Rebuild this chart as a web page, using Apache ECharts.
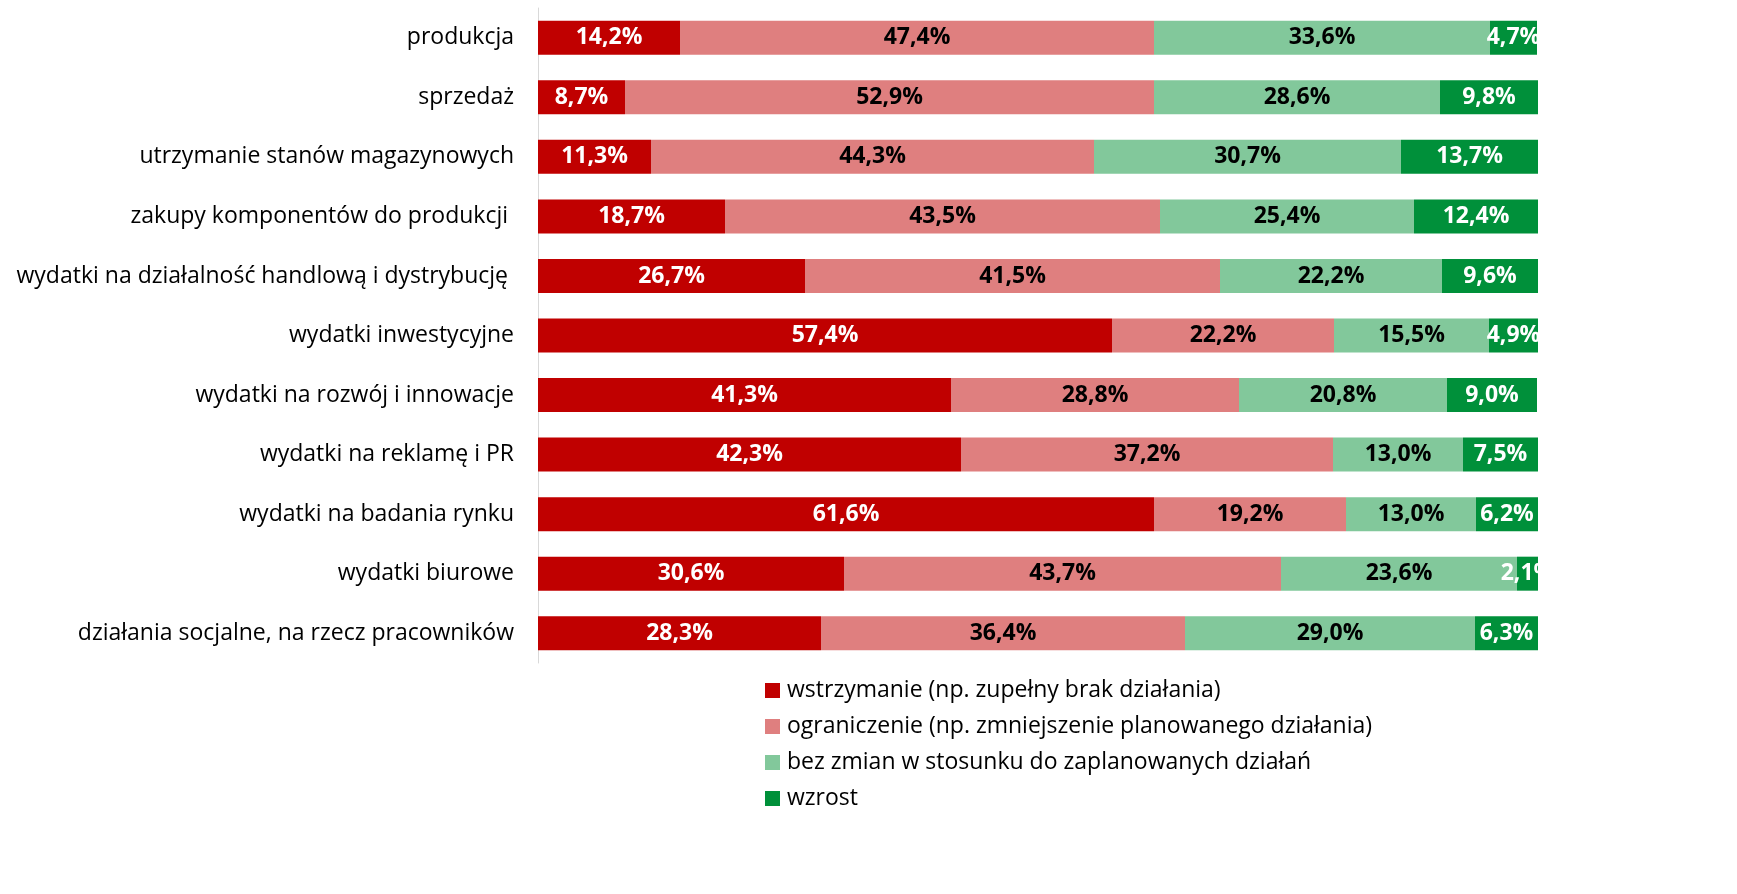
<!DOCTYPE html>
<html><head><meta charset="utf-8">
<script src="https://cdn.jsdelivr.net/npm/echarts@6/dist/echarts.min.js"></script>
<style>html,body{margin:0;padding:0;background:#fff}#c{width:1737px;height:894px}</style>
</head><body><div id="c"></div>
<script>
const categories = [
  "produkcja",
  "sprzedaż",
  "utrzymanie stanów magazynowych",
  "zakupy komponentów do produkcji ",
  "wydatki na działalność handlową i dystrybucję ",
  "wydatki inwestycyjne",
  "wydatki na rozwój i innowacje",
  "wydatki na reklamę i PR",
  "wydatki na badania rynku",
  "wydatki biurowe",
  "działania socjalne, na rzecz pracowników"
];
const seriesNames = [
  "wstrzymanie (np. zupełny brak działania)",
  "ograniczenie (np. zmniejszenie planowanego działania)",
  "bez zmian w stosunku do zaplanowanych działań",
  "wzrost"
];
const wstrzymanie = [14.2, 8.7, 11.3, 18.7, 26.7, 57.4, 41.3, 42.3, 61.6, 30.6, 28.3];
const ograniczenie = [47.4, 52.9, 44.3, 43.5, 41.5, 22.2, 28.8, 37.2, 19.2, 43.7, 36.4];
const bezZmian = [33.6, 28.6, 30.7, 25.4, 22.2, 15.5, 20.8, 13.0, 13.0, 23.6, 29.0];
const wzrost = [4.7, 9.8, 13.7, 12.4, 9.6, 4.9, 9.0, 7.5, 6.2, 2.1, 6.3];

const colors = ["#C00000", "#DF7F7F", "#82C89B", "#00903A"];
const labelColors = ["#fff", "#000", "#000", "#fff"];
const dataSets = [wstrzymanie, ograniczenie, bezZmian, wzrost];
const FONT = "Open Sans";

const chart = echarts.init(document.getElementById('c'));
chart.setOption({
  animation: false,
  textStyle: { fontFamily: FONT },
  grid: { left: 538, right: 199, top: 8, bottom: 231, containLabel: false },
  xAxis: {
    type: 'value', min: 0, max: 100,
    axisLine: { show: false }, axisTick: { show: false },
    axisLabel: { show: false }, splitLine: { show: false }
  },
  yAxis: {
    type: 'category', data: categories, inverse: true,
    axisLine: { show: true, lineStyle: { color: '#D9D9D9', width: 1 } },
    axisTick: { show: false },
    axisLabel: { color: '#000', fontSize: 23, fontFamily: FONT, margin: 24 }
  },
  legend: {
    orient: 'vertical', left: 760, top: 674,
    itemWidth: 15, itemHeight: 15, itemGap: 13,
    icon: 'rect',
    textStyle: { color: '#000', fontSize: 23, lineHeight: 23, fontFamily: FONT, padding: [0,0,0,2] },
    data: seriesNames
  },
  series: dataSets.map((d, i) => ({
    name: seriesNames[i],
    type: 'bar', stack: 'total', barWidth: 34,
    itemStyle: { color: colors[i] },
    label: {
      show: true, position: 'inside',
      color: labelColors[i],
      fontWeight: 'bold', fontSize: 23, fontFamily: FONT,
      formatter: p => p.value.toFixed(1).replace('.', ',') + '%'
    },
    data: d
  }))
});
</script></body></html>
